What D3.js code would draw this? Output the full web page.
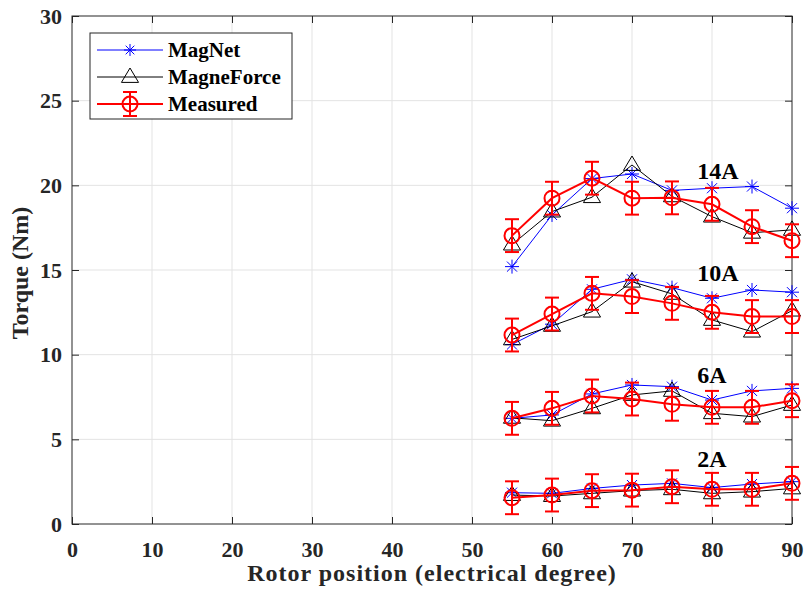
<!DOCTYPE html>
<html>
<head>
<meta charset="utf-8">
<script src="https://cdn.jsdelivr.net/npm/d3@7"></script>
<style>
  body { margin: 0; background: #fff; }
  svg text { font-family: "Liberation Serif", "Times New Roman", serif; font-weight: bold; fill: #262626; }
</style>
</head>
<body>
<div id="chart"></div>
<script>
const positions = [55, 60, 65, 70, 75, 80, 85, 90];
const currents = ["14A", "10A", "6A", "2A"];
const xTicks = [0, 10, 20, 30, 40, 50, 60, 70, 80, 90];
const yTicks = [0, 5, 10, 15, 20, 25, 30];

// torque per current (Nm)
const magnet = {
  "14A": [15.2, 18.25, 20.4, 20.67, 19.7, 19.83, 19.93, 18.65],
  "10A": [10.6, 11.8, 13.86, 14.45, 13.96, 13.33, 13.82, 13.69],
  "6A": [6.24, 6.44, 7.68, 8.21, 8.11, 7.32, 7.86, 8.01],
  "2A": [1.85, 1.81, 2.1, 2.3, 2.4, 2.15, 2.36, 2.5]
};
const magneforce = {
  "14A": [16.5, 18.45, 19.3, 21.2, 19.35, 18.15, 17.2, 17.37],
  "10A": [10.9, 11.7, 12.54, 14.31, 13.59, 12.05, 11.36, 12.6],
  "6A": [6.27, 6.1, 6.83, 7.62, 7.86, 6.54, 6.34, 7.03],
  "2A": [1.71, 1.65, 1.81, 1.97, 2.05, 1.81, 1.91, 2.1]
};
const measured = {
  "14A": [17.03, 19.24, 20.42, 19.24, 19.26, 18.88, 17.56, 16.73],
  "10A": [11.16, 12.4, 13.62, 13.43, 13.03, 12.5, 12.25, 12.25],
  "6A": [6.24, 6.83, 7.56, 7.38, 7.07, 6.89, 6.89, 7.28],
  "2A": [1.55, 1.71, 1.97, 2.0, 2.2, 2.05, 2.05, 2.4]
};
const measuredErr = [0.97, 0.97, 0.97, 0.97, 0.97, 0.97, 0.97, 0.97];
const labelPos = { "14A": [80.75, 20.87], "10A": [80.75, 14.83], "6A": [80, 8.8], "2A": [80, 3.84] };

const W = 807, H = 595;
const m = { left: 72, top: 16, right: 15, bottom: 71 };
const pw = W - m.left - m.right, ph = H - m.top - m.bottom;

const svg = d3.select("#chart").append("svg").attr("width", W).attr("height", H);
const g = svg.append("g").attr("transform", `translate(${m.left},${m.top})`);

const x = d3.scaleLinear().domain([0, 90]).range([0, pw]);
const y = d3.scaleLinear().domain([0, 30]).range([ph, 0]);

// grid
g.append("g").selectAll("line").data(xTicks.slice(1, -1)).enter().append("line")
  .attr("x1", d => x(d)).attr("x2", d => x(d)).attr("y1", 0).attr("y2", ph)
  .attr("stroke", "#e3e3e3").attr("stroke-width", 1);
g.append("g").selectAll("line").data(yTicks.slice(1, -1)).enter().append("line")
  .attr("y1", d => y(d)).attr("y2", d => y(d)).attr("x1", 0).attr("x2", pw)
  .attr("stroke", "#e3e3e3").attr("stroke-width", 1);

// axes (ticks inside, box)
const axisColor = "#262626";
function styleAxis(sel) {
  sel.select(".domain").remove();
  sel.selectAll(".tick line").attr("stroke", axisColor);
  sel.selectAll(".tick text").attr("font-size", 22).attr("fill", axisColor)
    .style("font-family", '"Liberation Serif", serif').style("font-weight", "bold");
}
g.append("g").attr("transform", `translate(0,${ph})`)
  .call(d3.axisBottom(x).tickValues(xTicks).tickSize(-7).tickPadding(17))
  .call(styleAxis);
g.append("g")
  .call(d3.axisLeft(y).tickValues(yTicks).tickSize(-7).tickPadding(10))
  .call(styleAxis);
g.append("g")
  .call(d3.axisTop(x).tickValues(xTicks).tickSize(-7).tickFormat(""))
  .call(styleAxis);
g.append("g").attr("transform", `translate(${pw},0)`)
  .call(d3.axisRight(y).tickValues(yTicks).tickSize(-7).tickFormat(""))
  .call(styleAxis);
g.append("rect").attr("width", pw).attr("height", ph)
  .attr("fill", "none").attr("stroke", axisColor).attr("stroke-width", 1);

const line = d3.line().x((d, i) => x(positions[i])).y(d => y(d));

function star(sel, cx, cy, r, color) {
  const gg = sel.append("g").attr("transform", `translate(${cx},${cy})`)
    .attr("stroke", color).attr("stroke-width", 1);
  gg.append("line").attr("x1", -r).attr("x2", r).attr("y1", 0).attr("y2", 0);
  gg.append("line").attr("x1", 0).attr("x2", 0).attr("y1", -r).attr("y2", r);
  const k = r * 0.72;
  gg.append("line").attr("x1", -k).attr("x2", k).attr("y1", -k).attr("y2", k);
  gg.append("line").attr("x1", -k).attr("x2", k).attr("y1", k).attr("y2", -k);
}
function tri(sel, cx, cy, r) {
  sel.append("path")
    .attr("d", `M${cx},${cy - r}L${cx + r * 0.95},${cy + r * 0.6}L${cx - r * 0.95},${cy + r * 0.6}Z`)
    .attr("fill", "none").attr("stroke", "#000").attr("stroke-width", 1);
}
function errBar(sel, cx, cy, lo, hi) {
  sel.append("line").attr("x1", cx).attr("x2", cx).attr("y1", lo).attr("y2", hi)
    .attr("stroke", "#ff0000").attr("stroke-width", 2);
  [lo, hi].forEach(v => sel.append("line").attr("x1", cx - 7).attr("x2", cx + 7)
    .attr("y1", v).attr("y2", v).attr("stroke", "#ff0000").attr("stroke-width", 2));
}

currents.forEach(c => {
  const layer = g.append("g");
  // MagNet
  layer.append("path").datum(magnet[c]).attr("d", line)
    .attr("fill", "none").attr("stroke", "#0000ff").attr("stroke-width", 1);
  magnet[c].forEach((v, i) => star(layer, x(positions[i]), y(v), 7, "#0000ff"));
  // MagneForce
  layer.append("path").datum(magneforce[c]).attr("d", line)
    .attr("fill", "none").attr("stroke", "#000").attr("stroke-width", 1);
  magneforce[c].forEach((v, i) => tri(layer, x(positions[i]), y(v), 9));
  // Measured
  layer.append("path").datum(measured[c]).attr("d", line)
    .attr("fill", "none").attr("stroke", "#ff0000").attr("stroke-width", 2);
  measured[c].forEach((v, i) => {
    const cx = x(positions[i]), cy = y(v);
    errBar(layer, cx, cy, y(v - measuredErr[i]), y(v + measuredErr[i]));
    layer.append("circle").attr("cx", cx).attr("cy", cy).attr("r", 7.5)
      .attr("fill", "none").attr("stroke", "#ff0000").attr("stroke-width", 2);
  });
  layer.append("text").attr("x", x(labelPos[c][0])).attr("y", y(labelPos[c][1]) + 8)
    .attr("text-anchor", "middle").attr("font-size", 24).style("fill", "#000").text(c);
});

// axis labels
svg.append("text").attr("x", m.left + pw / 2).attr("y", 581)
  .attr("text-anchor", "middle").attr("font-size", 24).style("letter-spacing", "1px")
  .text("Rotor position (electrical degree)");
svg.append("text").attr("transform", `translate(28,${m.top + ph / 2 + 3}) rotate(-90)`)
  .attr("text-anchor", "middle").attr("font-size", 24).text("Torque (Nm)");

// legend
const lg = svg.append("g").attr("transform", "translate(90,33)");
lg.append("rect").attr("width", 202).attr("height", 86)
  .attr("fill", "#fff").attr("stroke", axisColor).attr("stroke-width", 1);
const rows = [
  { name: "MagNet", color: "#0000ff", type: "star" },
  { name: "MagneForce", color: "#000", type: "tri" },
  { name: "Measured", color: "#ff0000", type: "circ" }
];
rows.forEach((r, i) => {
  const cy = 17 + i * 27;
  lg.append("line").attr("x1", 7).attr("x2", 73).attr("y1", cy).attr("y2", cy)
    .attr("stroke", r.color).attr("stroke-width", r.type === "circ" ? 2 : 1);
  if (r.type === "star") star(lg, 40, cy, 6, r.color);
  if (r.type === "tri") tri(lg, 40, cy, 9);
  if (r.type === "circ") {
    errBar(lg, 40, cy, cy + 12, cy - 12);
    lg.append("circle").attr("cx", 40).attr("cy", cy).attr("r", 7.5)
      .attr("fill", "none").attr("stroke", "#ff0000").attr("stroke-width", 2);
  }
  lg.append("text").attr("x", 78).attr("y", cy + 7).attr("font-size", 21)
    .style("fill", "#000").text(r.name);
});
</script>
</body>
</html>
